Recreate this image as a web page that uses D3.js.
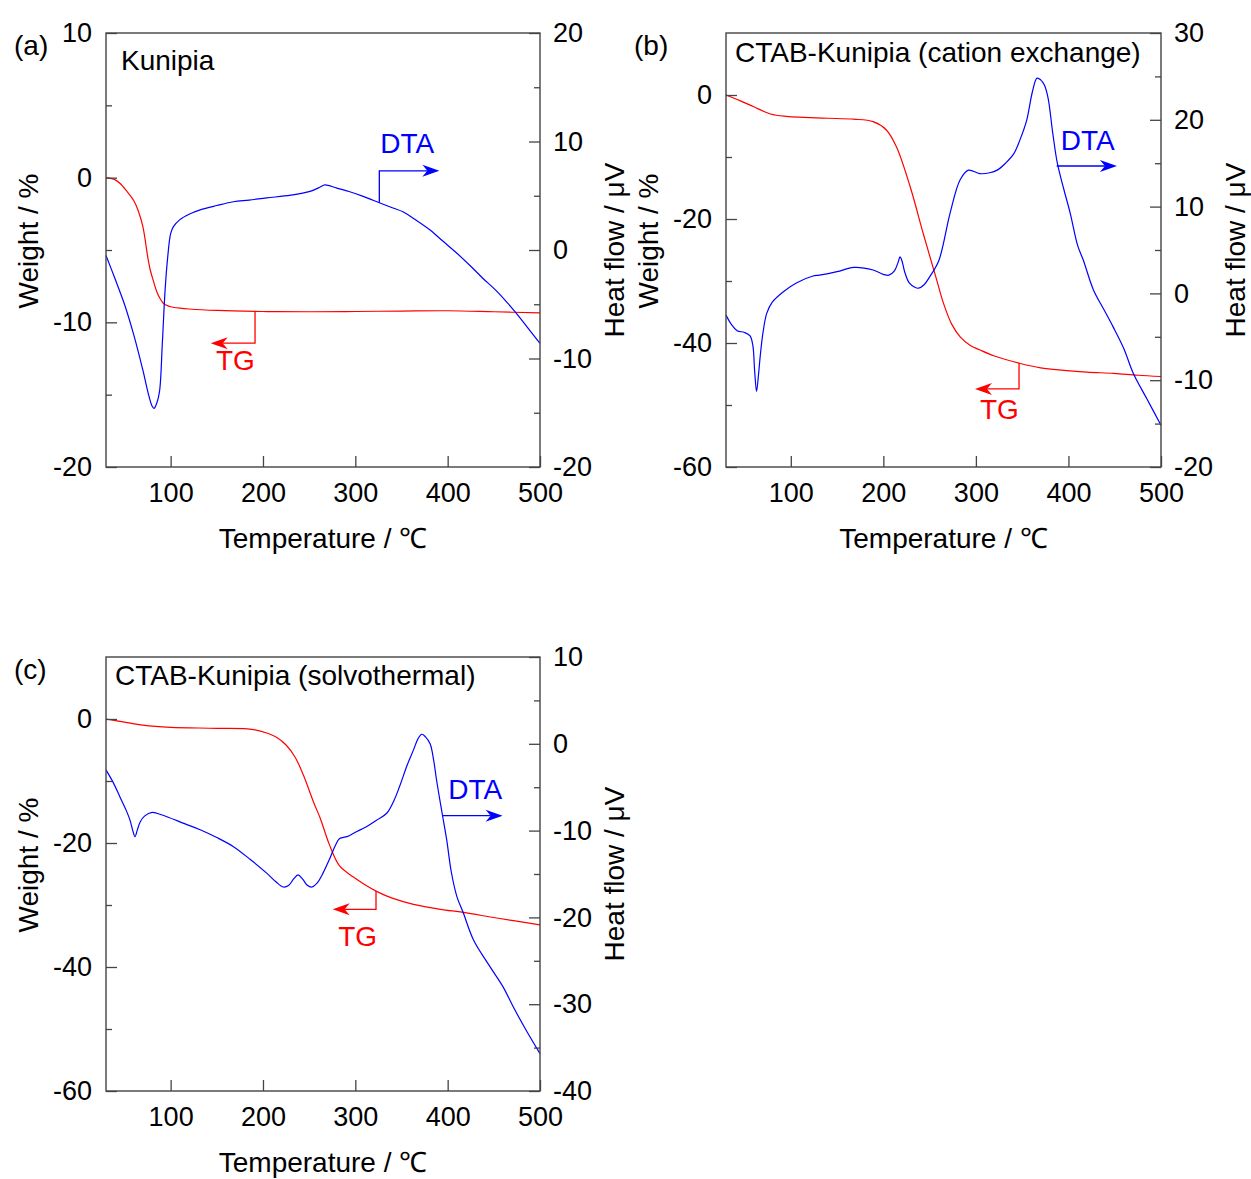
<!DOCTYPE html>
<html><head><meta charset="utf-8">
<script src="https://cdn.jsdelivr.net/npm/d3@7"></script>
<style>
body{margin:0;background:#fff}
svg text{font-family:"Liberation Sans",Arial,Helvetica,sans-serif}
</style>
</head><body>
<svg id="chart" width="1251" height="1179"></svg>
<script>
// ---------------- data ----------------
const tempDomain = [30, 500];
const xTickValues = [100, 200, 300, 400, 500];

// (a) Kunipia
const tgA_temp   = [30,40,45,52,60,65,70,75.5,78,81,85,88.5,92,96,100,110,120,150,200,250,300,350,400,450,500];
const tgA_weight = [0,-0.15,-0.39,-0.9,-1.58,-2.3,-3.4,-5.6,-6.4,-7.07,-7.88,-8.35,-8.68,-8.83,-8.92,-9.02,-9.08,-9.18,-9.25,-9.27,-9.25,-9.22,-9.2,-9.27,-9.35];
const dtaA_temp  = [30,40,50,60,70,76,80,82,85,88,91,94,97,100,103,110,120,132,150,168,185,204,230,251,262,267,280,294,310,326,340,352,365,381,395,410,425,438,452,465,474,487,500];
const dtaA_heat  = [-0.5,-2.7,-5.0,-7.8,-11.1,-13.3,-14.4,-14.6,-14.1,-13.0,-8.6,-3.7,-0.5,1.5,2.15,2.8,3.3,3.7,4.1,4.45,4.6,4.8,5.05,5.4,5.8,6.0,5.7,5.37,4.9,4.36,3.9,3.5,2.8,1.84,0.8,-0.3,-1.5,-2.6,-3.7,-4.9,-5.8,-7.2,-8.6];

// (b) CTAB-Kunipia (cation exchange)
const tgB_temp   = [30,45,60,78,95,114,140,168,189,203,214,229,243,250,257,265,274,283,294,304,320,348,370,395,420,449,475,500];
const tgB_weight = [0,-0.9,-1.9,-3.06,-3.45,-3.6,-3.75,-3.9,-4.3,-5.6,-8.3,-14.8,-22.3,-25.9,-29.5,-33.6,-37.0,-39.0,-40.4,-41.1,-42.1,-43.3,-44.0,-44.4,-44.7,-44.9,-45.2,-45.4];
const dtaB_temp  = [30,36,42,50,56,59,61,63,65,67,70,74,80,92,106,124,131,150,168,189,200,206,212,216,218,220,223,228,234,238,244,250,260,272,283,292,304,315,323,332,341,348,355,361,366,370,374,378,383,388,395,402,410,416,427,438,448,460,470,485,500];
const dtaB_heat  = [-2.5,-3.6,-4.3,-4.5,-4.9,-6.0,-9.0,-11.3,-9.5,-7.2,-4.5,-2.3,-1.0,0.2,1.2,2.0,2.1,2.5,3.0,2.7,2.2,2.1,2.6,3.6,4.2,3.8,2.5,1.2,0.7,0.6,1.0,1.9,3.8,9.2,13.1,14.2,13.8,13.9,14.2,15.0,16.1,17.8,20.0,23.2,24.8,24.6,24.0,22.5,18.5,15.0,12.0,9.2,5.5,3.85,0.4,-1.8,-3.8,-6.4,-9.2,-12.2,-15.2];

// (c) CTAB-Kunipia (solvothermal)
const tgC_temp   = [30,50,70,100,150,190,205,215,225,235,245,255,262,272,283,298,310,323,340,363,392,417,453,500];
const tgC_weight = [0,-0.5,-1.0,-1.35,-1.5,-1.7,-2.3,-3.0,-4.2,-6.2,-9.5,-13.5,-16.0,-20.3,-23.7,-25.5,-26.7,-27.8,-28.9,-29.9,-30.7,-31.2,-32.1,-33.2];
const dtaC_temp  = [30,38,45,52,56,59,61.4,64,67,72,80,85,96,115,132,150,168,186,204,214,222,228,233,238,243,248,253,259,265,272,278,283,291,300,312,323,334,342,348,356,363,368,372,376,381,385,388,394,399,404,410,417,428,446,460,471,485,500];
const dtaC_heat  = [-3.0,-4.5,-6.1,-7.7,-8.8,-10.0,-10.7,-9.9,-9.0,-8.3,-7.9,-8.0,-8.4,-9.2,-9.9,-10.8,-11.85,-13.3,-14.9,-15.9,-16.5,-16.3,-15.6,-15.1,-15.6,-16.3,-16.5,-16.0,-14.9,-13.3,-11.8,-10.9,-10.7,-10.2,-9.55,-8.8,-8.0,-6.5,-4.9,-2.5,-0.7,0.6,1.1,0.8,0.0,-2.0,-4.2,-8.0,-11.1,-14.8,-17.6,-19.5,-22.6,-25.7,-28.0,-30.3,-33.0,-35.7];

// tick values
const weightMajorA = [-20,-10,0,10],         weightMinorA = [-15,-5,5];
const heatMajorA   = [-20,-10,0,10,20],      heatMinorA   = [-15,-5,5,15];
const weightMajorB = [-60,-40,-20,0],        weightMinorB = [-50,-30,-10];
const heatMajorB   = [-20,-10,0,10,20,30],   heatMinorB   = [-15,-5,5,15,25];
const weightMajorC = [-60,-40,-20,0],        weightMinorC = [-50,-30,-10];
const heatMajorC   = [-40,-30,-20,-10,0,10], heatMinorC   = [-35,-25,-15,-5,5];

const panelLetters = ["(a)", "(b)", "(c)"];
const panelTitles  = ["Kunipia", "CTAB-Kunipia (cation exchange)", "CTAB-Kunipia (solvothermal)"];

// annotation anchors (data units)
const dtaNotes = [
  {corner:[326, 7.3],  fromCurve:true, tip:391,  label:[327, 8.95]},
  {corner:[387.3, 14.68], fromCurve:false, tip:452.4, label:[391.6, 16.5]},
  {corner:[394.6, -8.28], fromCurve:false, tip:459.5, label:[400.6, -6.39]}
];
const tgNotes = [
  {corner:[191.4, -11.44], tip:143.4, label:[149, -13.3]},
  {corner:[346.6, -47.4],  tip:299,   label:[304.4, -52.3]},
  {corner:[322.4, -30.7],  tip:275.5, label:[281.5, -36.56]}
];

// ---------------- layout ----------------
const panels = [
  {left:106, top:33,  right:540,  bottom:467,  wDom:[-20,10], hDom:[-20,20],
   tg:[tgA_temp,tgA_weight], dta:[dtaA_temp,dtaA_heat],
   wMaj:weightMajorA, wMin:weightMinorA, hMaj:heatMajorA, hMin:heatMinorA, titleDx:15, titleDy:37},
  {left:726, top:33,  right:1161, bottom:467,  wDom:[-60,10], hDom:[-20,30],
   tg:[tgB_temp,tgB_weight], dta:[dtaB_temp,dtaB_heat],
   wMaj:weightMajorB, wMin:weightMinorB, hMaj:heatMajorB, hMin:heatMinorB, titleDx:9, titleDy:29},
  {left:106, top:657, right:540,  bottom:1091, wDom:[-60,10], hDom:[-40,10],
   tg:[tgC_temp,tgC_weight], dta:[dtaC_temp,dtaC_heat],
   wMaj:weightMajorC, wMin:weightMinorC, hMaj:heatMajorC, hMin:heatMinorC, titleDx:9, titleDy:28}
];

const RED = "#ff0000", BLUE = "#0000ff", AXIS = "#444";
const svg = d3.select("#chart");
const fmt = d => String(d);

function styleAxis(sel, fs) {
  sel.select(".domain").remove();
  sel.selectAll(".tick line").attr("stroke", AXIS).attr("stroke-width", 1.3);
  sel.selectAll(".tick text").attr("fill", "#000").attr("font-size", fs)
     .attr("font-family", '"Liberation Sans",Arial,sans-serif');
  sel.attr("font-family", null).attr("font-size", null);
}

function arrowHead(g, x, y, dir, color) {
  const L = 17, W = 6, N = 12;
  g.append("path")
    .attr("d", `M${x},${y} L${x - dir*L},${y - W} L${x - dir*N},${y} L${x - dir*L},${y + W} Z`)
    .attr("fill", color).attr("stroke", "none");
}

const smooth = d3.curveCatmullRom.alpha(0.5);

panels.forEach((p, i) => {
  const g = svg.append("g");
  const x  = d3.scaleLinear().domain(tempDomain).range([p.left, p.right]);
  const yW = d3.scaleLinear().domain(p.wDom).range([p.bottom, p.top]);
  const yH = d3.scaleLinear().domain(p.hDom).range([p.bottom, p.top]);

  const tgData  = p.tg[0].map((t, k) => [t, p.tg[1][k]]);
  const dtaData = p.dta[0].map((t, k) => [t, p.dta[1][k]]);

  g.append("path").datum(tgData)
    .attr("d", d3.line().x(d => x(d[0])).y(d => yW(d[1])).curve(smooth))
    .attr("fill", "none").attr("stroke", RED).attr("stroke-width", 1.2);
  g.append("path").datum(dtaData)
    .attr("d", d3.line().x(d => x(d[0])).y(d => yH(d[1])).curve(smooth))
    .attr("fill", "none").attr("stroke", BLUE).attr("stroke-width", 1.2);

  const fs = 27;
  g.append("g").attr("transform", `translate(${p.left},0)`)
    .call(d3.axisLeft(yW).tickValues(p.wMaj).tickSize(-11).tickSizeOuter(0).tickPadding(14).tickFormat(fmt))
    .call(s => styleAxis(s, fs));
  g.append("g").attr("transform", `translate(${p.left},0)`)
    .call(d3.axisLeft(yW).tickValues(p.wMin).tickSize(-6).tickSizeOuter(0).tickFormat(""))
    .call(s => styleAxis(s, fs));
  g.append("g").attr("transform", `translate(${p.right},0)`)
    .call(d3.axisRight(yH).tickValues(p.hMaj).tickSize(-11).tickSizeOuter(0).tickPadding(13).tickFormat(fmt))
    .call(s => styleAxis(s, fs));
  g.append("g").attr("transform", `translate(${p.right},0)`)
    .call(d3.axisRight(yH).tickValues(p.hMin).tickSize(-6).tickSizeOuter(0).tickFormat(""))
    .call(s => styleAxis(s, fs));
  g.append("g").attr("transform", `translate(0,${p.bottom})`)
    .call(d3.axisBottom(x).tickValues(xTickValues).tickSize(-11).tickSizeOuter(0).tickPadding(16).tickFormat(fmt))
    .call(s => styleAxis(s, fs));

  g.append("rect").attr("x", p.left).attr("y", p.top)
    .attr("width", p.right - p.left).attr("height", p.bottom - p.top)
    .attr("fill", "none").attr("stroke", AXIS).attr("stroke-width", 1.4);

  const cy = (p.top + p.bottom) / 2;
  g.append("text").attr("x", (p.left + p.right) / 2).attr("y", p.bottom + 81)
    .attr("text-anchor", "middle").attr("font-size", 28).text("Temperature / ℃");
  g.append("text").attr("transform", `translate(${p.left - 68},${cy - 9}) rotate(-90)`)
    .attr("text-anchor", "middle").attr("font-size", 28).text("Weight / %");
  g.append("text").attr("transform", `translate(${p.right + 84},${cy}) rotate(-90)`)
    .attr("text-anchor", "middle").attr("font-size", 28).text("Heat flow / μV");
  g.append("text").attr("x", p.left - 92).attr("y", p.top + 22)
    .attr("font-size", 28).text(panelLetters[i]);
  g.append("text").attr("x", p.left + p.titleDx).attr("y", p.top + p.titleDy)
    .attr("font-size", 28).text(panelTitles[i]);

  // DTA annotation
  const dn = dtaNotes[i];
  const cx = x(dn.corner[0]), cyy = yH(dn.corner[1]);
  if (dn.fromCurve) {
    const curveH = d3.scaleLinear().domain(p.dta[0]).range(p.dta[1]);
    g.append("path").attr("d", `M${cx},${yH(curveH(dn.corner[0]))} V${cyy} H${x(dn.tip) - 12}`)
      .attr("fill", "none").attr("stroke", BLUE).attr("stroke-width", 1.3);
  } else {
    g.append("path").attr("d", `M${cx},${cyy} H${x(dn.tip) - 12}`)
      .attr("fill", "none").attr("stroke", BLUE).attr("stroke-width", 1.3);
  }
  arrowHead(g, x(dn.tip), cyy, 1, BLUE);
  g.append("text").attr("x", x(dn.label[0])).attr("y", yH(dn.label[1]))
    .attr("font-size", 28).attr("fill", BLUE).text("DTA");

  // TG annotation
  const tn = tgNotes[i];
  const curveW = d3.scaleLinear().domain(p.tg[0]).range(p.tg[1]);
  const tx = x(tn.corner[0]), ty = yW(tn.corner[1]);
  g.append("path").attr("d", `M${tx},${yW(curveW(tn.corner[0]))} V${ty} H${x(tn.tip) + 12}`)
    .attr("fill", "none").attr("stroke", RED).attr("stroke-width", 1.3);
  arrowHead(g, x(tn.tip), ty, -1, RED);
  g.append("text").attr("x", x(tn.label[0])).attr("y", yW(tn.label[1]))
    .attr("font-size", 28).attr("fill", RED).text("TG");
});
</script>
</body></html>
